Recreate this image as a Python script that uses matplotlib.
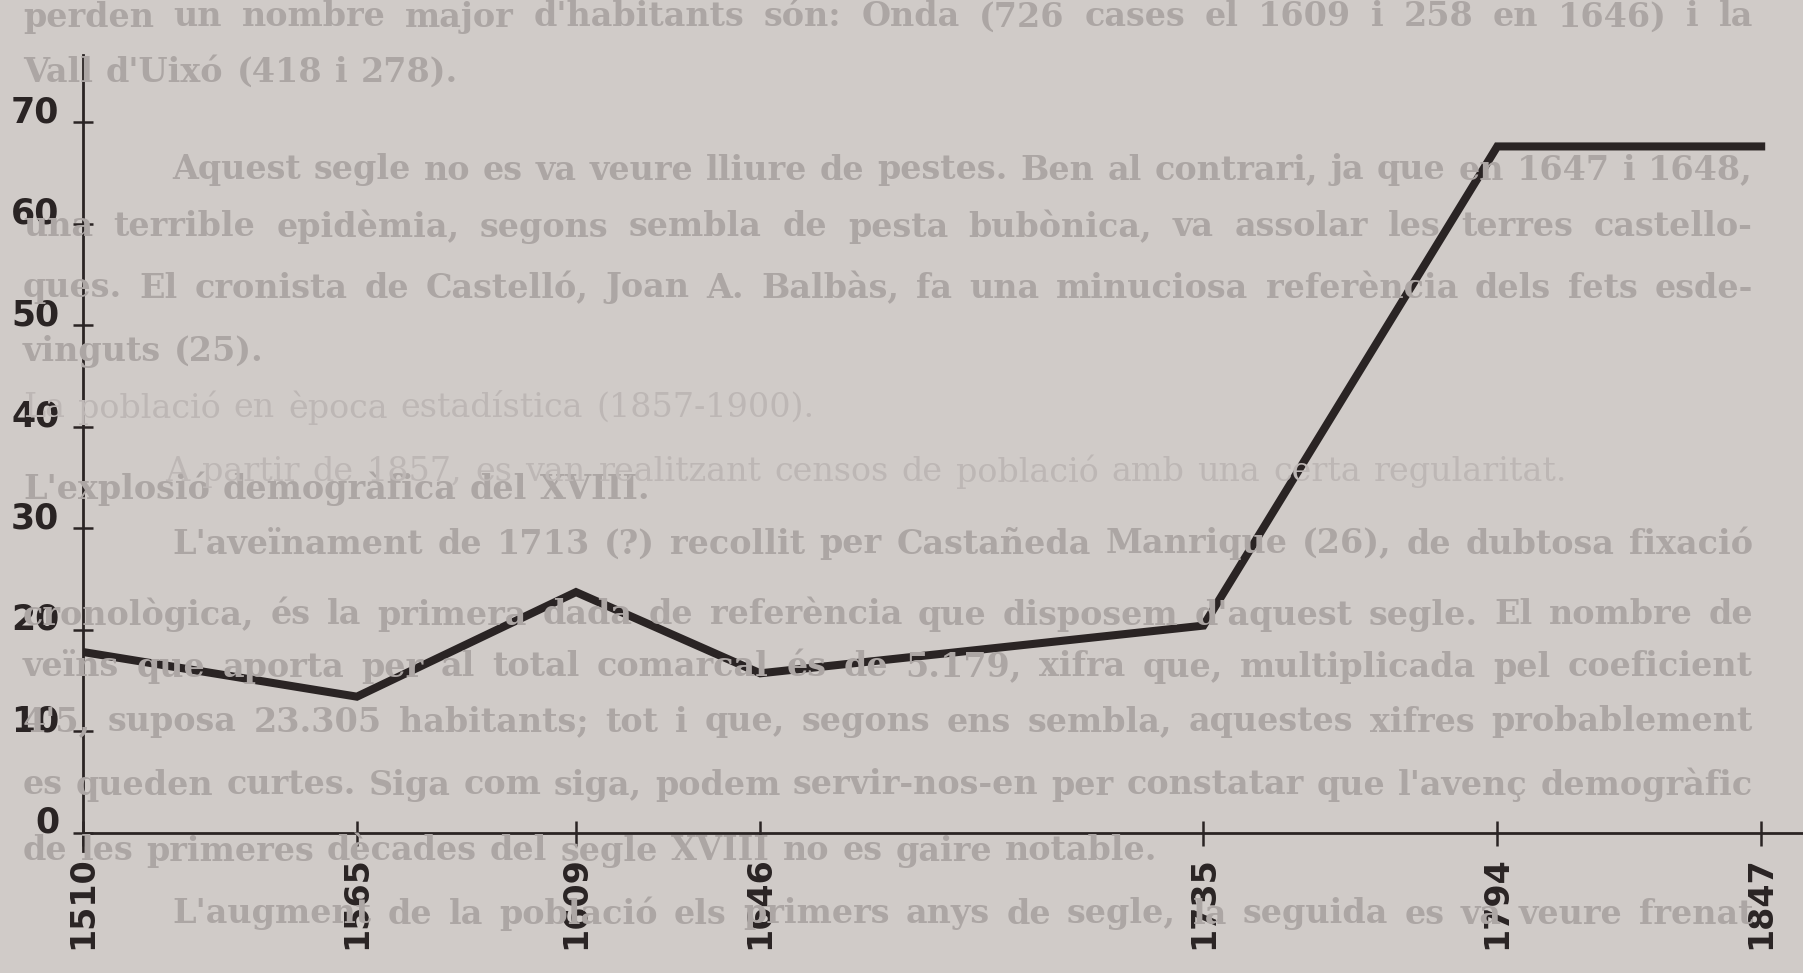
import matplotlib.pyplot as plt

# data
anys = [1510, 1565, 1609, 1646, 1735, 1794, 1847]
valors = [17.8, 13.4, 23.7, 15.7, 20.4, 67.6, 67.6]
yticks = [0, 10, 20, 30, 40, 50, 60, 70]

# page text showing through behind the chart: (x, y, justified, text)
pagina = [
    (23, 17, True, "perden un nombre major d'habitants són: Onda (726 cases el 1609 i 258 en 1646) i la"),
    (23, 72, False, "Vall d'Uixó (418 i 278)."),
    (172, 170, True, "Aquest segle no es va veure lliure de pestes. Ben al contrari, ja que en 1647 i 1648,"),
    (23, 227, True, "una terrible epidèmia, segons sembla de pesta bubònica, va assolar les terres castello-"),
    (23, 288, True, "ques. El cronista de Castelló, Joan A. Balbàs, fa una minuciosa referència dels fets esde-"),
    (23, 351, False, "vinguts (25)."),
    (23, 489, False, "L'explosió demogràfica del XVIII."),
    (172, 544, True, "L'aveïnament de 1713 (?) recollit per Castañeda Manrique (26), de dubtosa fixació"),
    (23, 615, True, "cronològica, és la primera dada de referència que disposem d'aquest segle. El nombre de"),
    (23, 667, True, "veïns que aporta per al total comarcal és de 5.179, xifra que, multiplicada pel coeficient"),
    (23, 722, True, "4'5, suposa 23.305 habitants; tot i que, segons ens sembla, aquestes xifres probablement"),
    (23, 785, True, "es queden curtes. Siga com siga, podem servir-nos-en per constatar que l'avenç demogràfic"),
    (23, 851, False, "de les primeres dècades del segle XVIII no es gaire notable."),
    (172, 914, True, "L'augment de la població els primers anys de segle, la seguida es va veure frenat"),
]
ombra = [
    (23, 408, "La població en època estadística (1857-1900)."),
    (165, 472, "A partir de 1857, es van realitzant censos de població amb una certa regularitat."),
]

W, H = 1803, 973
RIGHT = 1753
paper = '#d0cbc8'
ink = '#2a2424'
txt_col = '#aca6a4'

fig = plt.figure(figsize=(W / 100, H / 100), dpi=100, facecolor=paper)
renderer = fig.canvas.get_renderer()

def linia(x, y, s, just, color, weight):
    words = s.split()
    ts = []
    for w in words:
        t = fig.text(x / W, 1 - y / H, w, fontsize=24, family='DejaVu Serif',
                     fontweight=weight, color=color, va='center', ha='left', zorder=0)
        ts.append(t)
    widths = [t.get_window_extent(renderer).width for t in ts]
    space = 13
    if just and len(ts) > 1:
        space = (RIGHT - x - sum(widths)) / (len(ts) - 1)
    cx = x
    for t, wd in zip(ts, widths):
        t.set_x(cx / W)
        cx += wd + space

for x, y, just, s in pagina:
    linia(x, y, s, just, txt_col, 'bold')
for x, y, s in ombra:
    linia(x, y, s, False, '#bdb7b5', 'normal')

ax = fig.add_axes([83 / W, 0.1254, 1 - 83 / W, 0.818])
ax.patch.set_alpha(0)

ax.plot(anys, valors, color=ink, lw=5.8, solid_joinstyle='miter', zorder=3)

ax.set_xlim(1510, 1855.4)
ax.set_ylim(-1.8, 76.6)

ax.spines['top'].set_visible(False)
ax.spines['right'].set_visible(False)
ax.spines['bottom'].set_position(('data', 0))
for sp in ['left', 'bottom']:
    ax.spines[sp].set_linewidth(2)
    ax.spines[sp].set_color(ink)

ax.set_xticks(anys)
ax.set_xticklabels([str(a) for a in anys], rotation=90)
ax.set_yticks(yticks)
ax.set_yticklabels([str(v) for v in yticks])

ax.tick_params(axis='x', direction='inout', length=18, width=1.8, color=ink,
               pad=8, labelsize=24, labelcolor=ink)
ax.tick_params(axis='y', direction='inout', length=14, width=1.8, color=ink,
               pad=10, labelsize=25, labelcolor=ink)
for t in ax.get_xticklabels() + ax.get_yticklabels():
    t.set_family('DejaVu Sans')
    t.set_fontweight('bold')
for t in ax.get_yticklabels():
    t.set_va('baseline')

fig.savefig('out.png', dpi=100, facecolor=paper)
